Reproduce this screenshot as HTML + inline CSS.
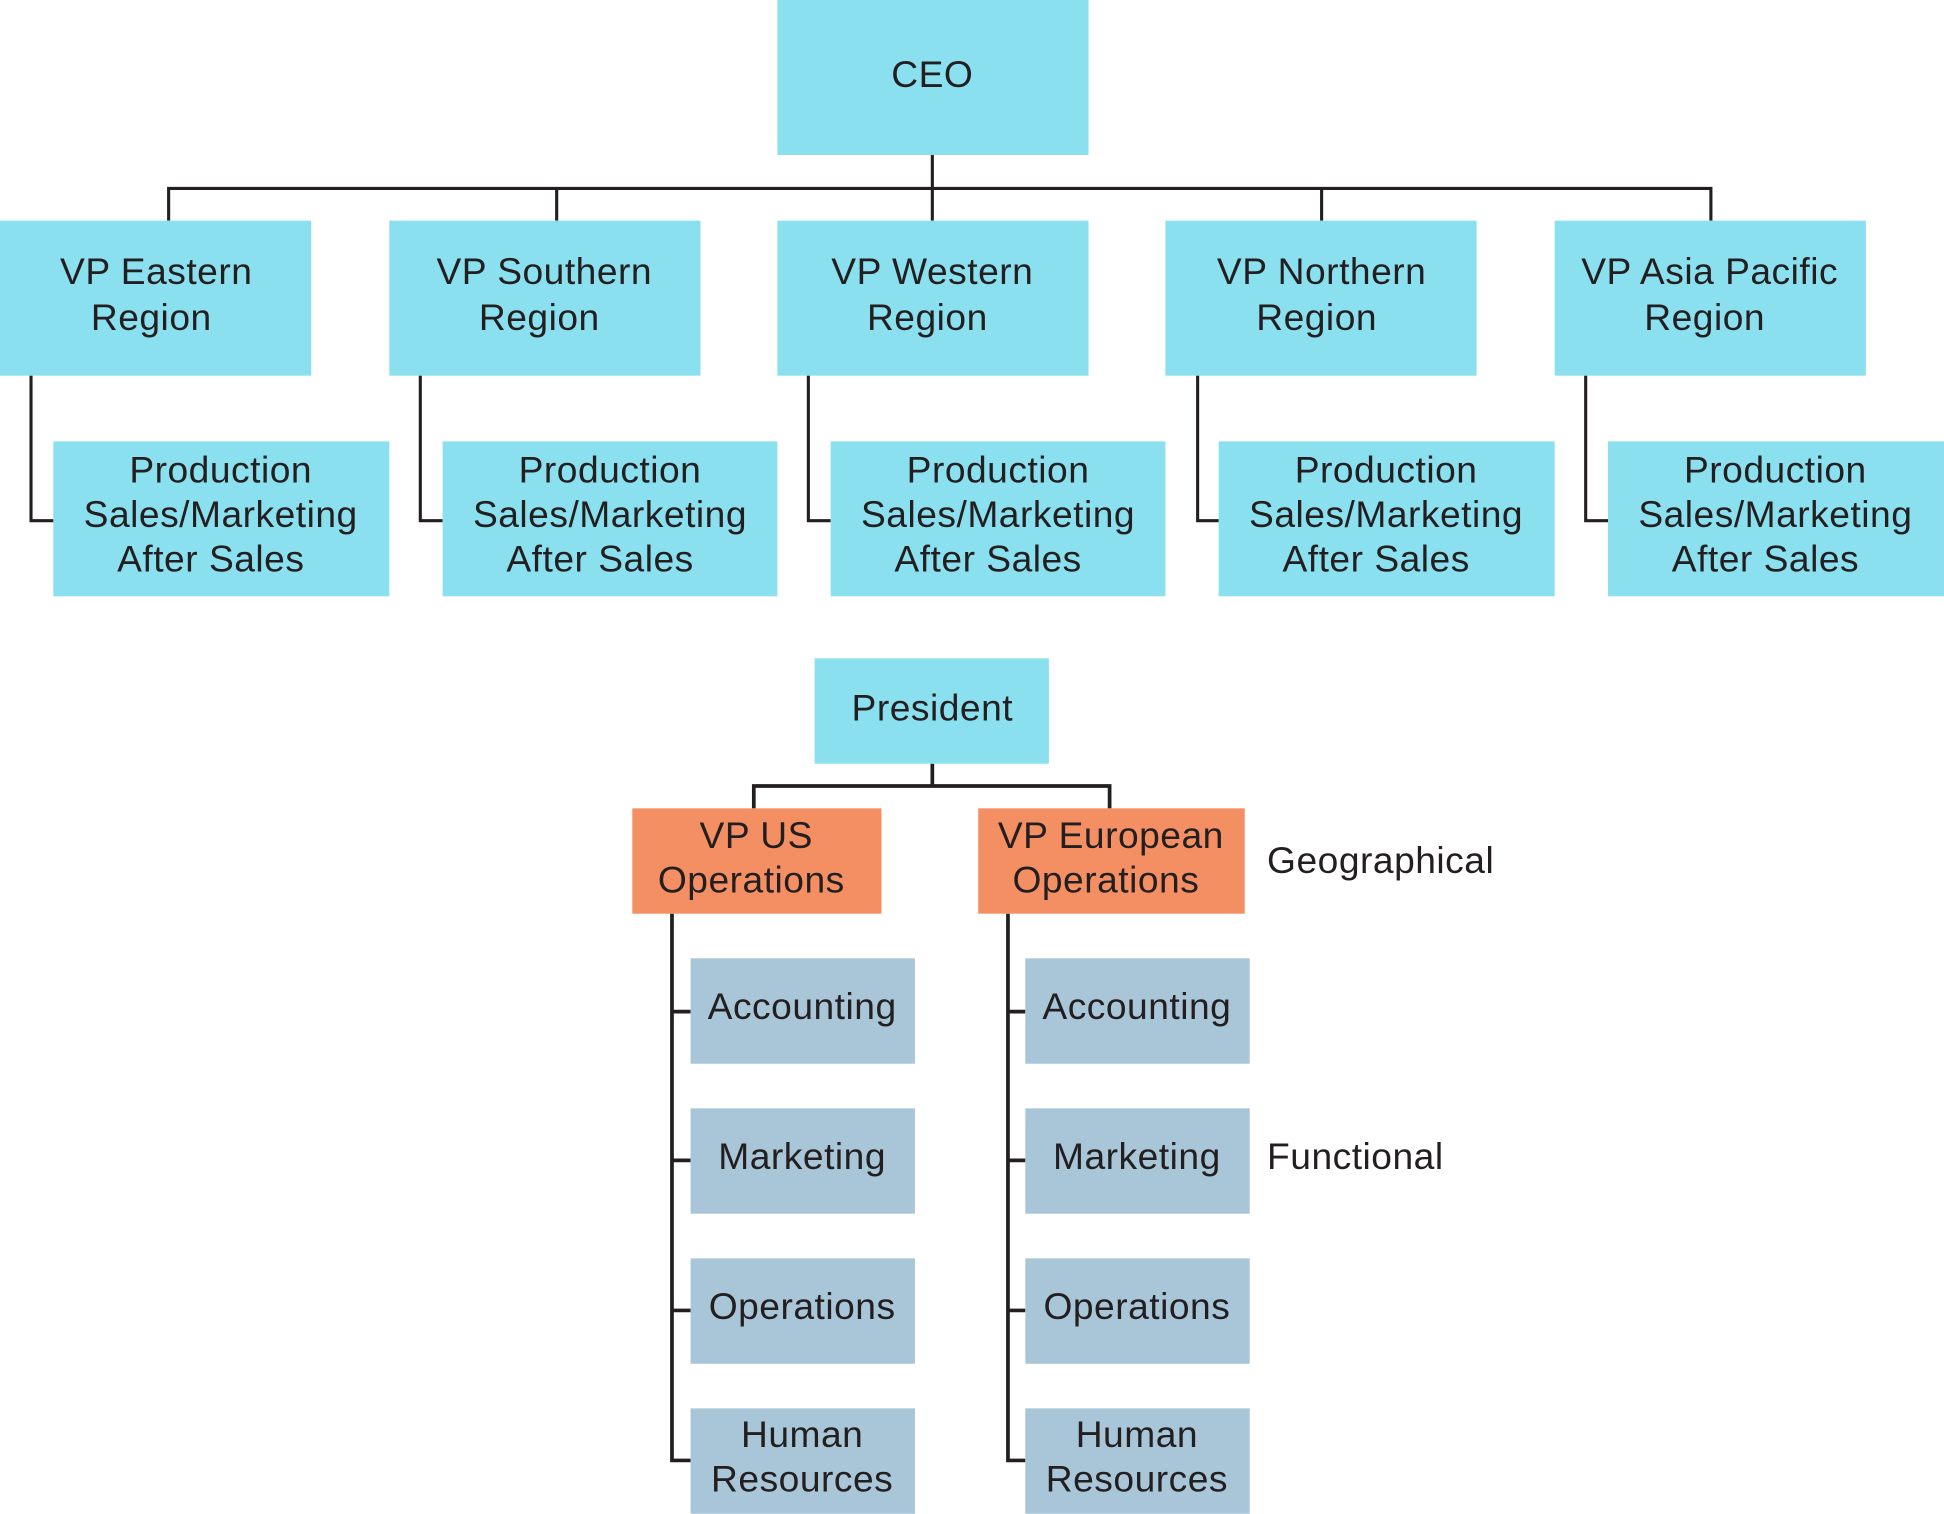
<!DOCTYPE html>
<html><head><meta charset="utf-8"><style>html,body{margin:0;padding:0;background:#fff}svg{display:block}</style></head>
<body>
<svg width="1944" height="1514" viewBox="0 0 1568 1221.2" xmlns="http://www.w3.org/2000/svg" font-family="'Liberation Sans', 'DejaVu Sans', sans-serif" font-size="30" letter-spacing="0.4" fill="#231f20">
<g fill="none" stroke="#231f20" stroke-width="2.5">
<path d="M752 125V178M136 178V152H1380V178M449 152V178M1066 152V178"/>
<path d="M25 303V420H43M339 303V420H357M652 303V420H670M966 303V420H983M1279 303V420H1297"/>
<path d="M752 616V634M608 652V634H895V652" stroke-width="3"/>
<path d="M542 737V1178H557M542 816H557M542 936H557M542 1057H557" stroke-width="3"/>
<path d="M813 737V1178H827M813 816H827M813 936H827M813 1057H827" stroke-width="3"/>
</g>
<g fill="#8ae0ef">
<rect x="627" y="0" width="251" height="125"/>
<rect x="0" y="178" width="251" height="125"/><rect x="314" y="178" width="251" height="125"/><rect x="627" y="178" width="251" height="125"/><rect x="940" y="178" width="251" height="125"/><rect x="1254" y="178" width="251" height="125"/>
<rect x="43" y="356" width="271" height="125"/><rect x="357" y="356" width="270" height="125"/><rect x="670" y="356" width="270" height="125"/><rect x="983" y="356" width="271" height="125"/><rect x="1297" y="356" width="271" height="125"/>
<rect x="657" y="531" width="189" height="85"/>
</g>
<g fill="#f48f64"><rect x="510" y="652" width="201" height="85"/><rect x="789" y="652" width="215" height="85"/></g>
<g fill="#a8c6d8">
<rect x="557" y="773" width="181" height="85"/><rect x="557" y="894" width="181" height="85"/><rect x="557" y="1015" width="181" height="85"/><rect x="557" y="1136" width="181" height="85"/>
<rect x="827" y="773" width="181" height="85"/><rect x="827" y="894" width="181" height="85"/><rect x="827" y="1015" width="181" height="85"/><rect x="827" y="1136" width="181" height="85"/>
</g>
<g text-anchor="middle">
<text x="752" y="70">CEO</text>
<text x="126" y="229">VP Eastern</text><text x="122" y="266">Region</text>
<text x="439" y="229">VP Southern</text><text x="435" y="266">Region</text>
<text x="752" y="229">VP Western</text><text x="748" y="266">Region</text>
<text x="1066" y="229">VP Northern</text><text x="1062" y="266">Region</text>
<text x="1379" y="229">VP Asia Pacific</text><text x="1375" y="266">Region</text>
<g>
<text x="178" y="389">Production</text><text x="178" y="425">Sales/Marketing</text><text x="170" y="461">After Sales</text>
<text x="492" y="389">Production</text><text x="492" y="425">Sales/Marketing</text><text x="484" y="461">After Sales</text>
<text x="805" y="389">Production</text><text x="805" y="425">Sales/Marketing</text><text x="797" y="461">After Sales</text>
<text x="1118" y="389">Production</text><text x="1118" y="425">Sales/Marketing</text><text x="1110" y="461">After Sales</text>
<text x="1432" y="389">Production</text><text x="1432" y="425">Sales/Marketing</text><text x="1424" y="461">After Sales</text>
</g>
<text x="752" y="581">President</text>
<text x="610" y="684">VP US</text><text x="606" y="720">Operations</text>
<text x="896" y="684">VP European</text><text x="892" y="720">Operations</text>
<text x="647" y="822">Accounting</text><text x="647" y="943">Marketing</text><text x="647" y="1064">Operations</text>
<text x="647" y="1167">Human</text><text x="647" y="1203">Resources</text>
<text x="917" y="822">Accounting</text><text x="917" y="943">Marketing</text><text x="917" y="1064">Operations</text>
<text x="917" y="1167">Human</text><text x="917" y="1203">Resources</text>
</g>
<text x="1022" y="704">Geographical</text>
<text x="1022" y="943">Functional</text>
</svg>
</body></html>
